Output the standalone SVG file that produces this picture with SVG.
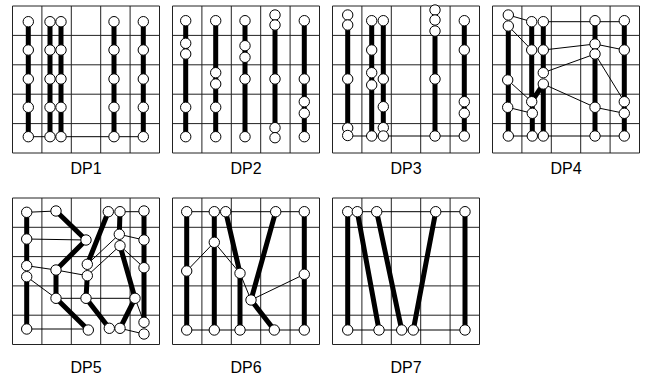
<svg xmlns="http://www.w3.org/2000/svg" width="645" height="376" viewBox="0 0 645 376">
<style>
.grid{fill:none;stroke:#222;stroke-width:1}
.thin{stroke:#000;stroke-width:1;fill:none}
.thick{stroke:#000;stroke-width:5;fill:none}
circle{fill:#fff;stroke:#000;stroke-width:1}
text{font-family:"Liberation Sans",Arial,sans-serif;font-size:16px;text-anchor:middle;fill:#000}
</style>
<g id="grids">
<path class="grid" d="M12.5,6h147v147h-147z M41.9,6v147 M71.3,6v147 M100.7,6v147 M130.1,6v147 M12.5,35.4h147 M12.5,64.8h147 M12.5,94.2h147 M12.5,123.6h147"/>
<path class="grid" d="M172.5,6h147v147h-147z M201.9,6v147 M231.3,6v147 M260.7,6v147 M290.1,6v147 M172.5,35.4h147 M172.5,64.8h147 M172.5,94.2h147 M172.5,123.6h147"/>
<path class="grid" d="M332.5,6h147v147h-147z M361.9,6v147 M391.3,6v147 M420.7,6v147 M450.1,6v147 M332.5,35.4h147 M332.5,64.8h147 M332.5,94.2h147 M332.5,123.6h147"/>
<path class="grid" d="M492.5,6h147v147h-147z M521.9,6v147 M551.3,6v147 M580.7,6v147 M610.1,6v147 M492.5,35.4h147 M492.5,64.8h147 M492.5,94.2h147 M492.5,123.6h147"/>
<path class="grid" d="M12.5,198h147v146.5h-147z M41.9,198v146.5 M71.3,198v146.5 M100.7,198v146.5 M130.1,198v146.5 M12.5,227.3h147 M12.5,256.6h147 M12.5,285.9h147 M12.5,315.2h147"/>
<path class="grid" d="M172.5,198h147v146.5h-147z M201.9,198v146.5 M231.3,198v146.5 M260.7,198v146.5 M290.1,198v146.5 M172.5,227.3h147 M172.5,256.6h147 M172.5,285.9h147 M172.5,315.2h147"/>
<path class="grid" d="M332.5,198h147v146.5h-147z M361.9,198v146.5 M391.3,198v146.5 M420.7,198v146.5 M450.1,198v146.5 M332.5,227.3h147 M332.5,256.6h147 M332.5,285.9h147 M332.5,315.2h147"/>
</g>
<g id="connectors">
<!-- DP1 -->
<path class="thin" d="M28.3,136.7H143.3"/>
<path class="thick" d="M28.3,21.7V136.7 M50,21.7V136.7 M61,21.7V136.7 M114,21.7V136.7 M143.3,21.7V136.7"/>
<!-- DP2 -->
<path class="thick" d="M185.7,20.7V136.7 M215.7,20.7V136.7 M245,20.7V136.7 M275,25V127.7 M304.3,20.7V136.7"/>
<!-- DP3 -->
<path class="thin" d="M347.7,136H464.3"/>
<path class="thick" d="M347.7,25V128 M371.7,20.7V136 M383.3,20.7V136 M435,31V136 M464.3,20.7V136"/>
<!-- DP4 -->
<path class="thin" d="M508.3,15L531.7,21.7 M543.3,21.7H624.3 M508.3,26L531.7,50 M543.3,50L595,44L624.3,50 M543.3,72.7L595,54L624.3,101.7 M543.3,84L595,107.3L624.3,113.3 M507.7,80L531.7,101.7 M507.7,107.3L532.3,113.3 M508.3,136H624.3"/>
<path class="thick" d="M508.3,26V136 M531.7,21.7V101.7 M532.3,101.7V136 M543.3,21.7V72.7 M543.3,84V136 M531.7,101.7L543.3,84 M595,20.7V136 M624.3,20.7V136"/>
<!-- DP5 -->
<path class="thin" d="M26.7,212.3L56,211 M120,211.7H144 M26.7,239L86,240 M119.3,234.3L144,240 M87.3,264.3L119.3,234.3 M87.3,275.7L120,245.7 M120,245.7L144,267.7 M26.7,265.7L56,270 M56,270L87.3,275.7 M26.7,276.7L56,298.3 M56,298.3H86 M86,298.3H135 M135,298.3L144,322.3 M26.7,329H88.3 M120,328.3L144,334"/>
<path class="thick" d="M26.7,212.3V265.7 M26.7,276.7V329 M56,211L86,240 M86,240L56,270 M108.3,211.7L87.3,264.3 M56,270V298.3 M56,298.3L88.3,330 M87.3,275.7L86,298.3 M86,298.3L109.3,328.3 M120,211.7L119.3,234.3 M120,245.7L135,298.3 M135,298.3L120,328.3 M144,211V322.3"/>
<!-- DP6 -->
<path class="thin" d="M186.7,211.7H214.3 M225.7,211.7H304.3 M186.7,271L214.3,242.3L240,273.3L251,300L304.3,274.3 M186.7,330H304.3"/>
<path class="thick" d="M186.7,211.7V330 M214.3,211.7V330 M225.7,211.7L240,273.3V330 M275.7,211.7L251,300L274.3,330 M304.3,211.7V330"/>
<!-- DP7 -->
<path class="thin" d="M347.7,211.7H465 M347.7,330H465"/>
<path class="thick" d="M347.7,211.7V330 M357.3,211.7L379,330 M376.7,211.7L401.7,330 M435.7,211.7L413.3,330 M465,211.7V330"/>
</g>
<g id="dp1">
<g id="dp1-a1"><circle cx="28.3" cy="21.7" r="5.2"/></g><g id="dp1-a2"><circle cx="28.3" cy="50" r="5.2"/></g><g id="dp1-a3"><circle cx="28.3" cy="79" r="5.2"/></g><g id="dp1-a4"><circle cx="28.3" cy="107.3" r="5.2"/></g><g id="dp1-a5"><circle cx="28.3" cy="136.7" r="5.2"/></g>
<g id="dp1-b1"><circle cx="50" cy="21.7" r="5.2"/></g><g id="dp1-b2"><circle cx="50" cy="50" r="5.2"/></g><g id="dp1-b3"><circle cx="50" cy="79" r="5.2"/></g><g id="dp1-b4"><circle cx="50" cy="107.3" r="5.2"/></g><g id="dp1-b5"><circle cx="50" cy="136.7" r="5.2"/></g>
<g id="dp1-c1"><circle cx="61" cy="21.7" r="5.2"/></g><g id="dp1-c2"><circle cx="61" cy="50" r="5.2"/></g><g id="dp1-c3"><circle cx="61" cy="79" r="5.2"/></g><g id="dp1-c4"><circle cx="61" cy="107.3" r="5.2"/></g><g id="dp1-c5"><circle cx="61" cy="136.7" r="5.2"/></g>
<g id="dp1-d1"><circle cx="114" cy="21.7" r="5.2"/></g><g id="dp1-d2"><circle cx="114" cy="50" r="5.2"/></g><g id="dp1-d3"><circle cx="114" cy="79" r="5.2"/></g><g id="dp1-d4"><circle cx="114" cy="107.3" r="5.2"/></g><g id="dp1-d5"><circle cx="114" cy="136.7" r="5.2"/></g>
<g id="dp1-e1"><circle cx="143.3" cy="21.7" r="5.2"/></g><g id="dp1-e2"><circle cx="143.3" cy="50" r="5.2"/></g><g id="dp1-e3"><circle cx="143.3" cy="79" r="5.2"/></g><g id="dp1-e4"><circle cx="143.3" cy="107.3" r="5.2"/></g><g id="dp1-e5"><circle cx="143.3" cy="136.7" r="5.2"/></g>
<text x="86" y="173.5">DP1</text>
</g>
<g id="dp2">
<g id="dp2-a1"><circle cx="185.7" cy="20.7" r="5.2"/></g><g id="dp2-a2"><circle cx="185.7" cy="43.3" r="5.2"/></g><g id="dp2-a3"><circle cx="185.7" cy="54" r="5.2"/></g><g id="dp2-a4"><circle cx="185.7" cy="107.3" r="5.2"/></g><g id="dp2-a5"><circle cx="185.7" cy="136.7" r="5.2"/></g>
<g id="dp2-b1"><circle cx="215.7" cy="20.7" r="5.2"/></g><g id="dp2-b2"><circle cx="215.7" cy="72.7" r="5.2"/></g><g id="dp2-b3"><circle cx="215.7" cy="84" r="5.2"/></g><g id="dp2-b4"><circle cx="215.7" cy="107.3" r="5.2"/></g><g id="dp2-b5"><circle cx="215.7" cy="136.7" r="5.2"/></g>
<g id="dp2-c1"><circle cx="245" cy="20.7" r="5.2"/></g><g id="dp2-c2"><circle cx="245" cy="45.7" r="5.2"/></g><g id="dp2-c3"><circle cx="245" cy="57.3" r="5.2"/></g><g id="dp2-c4"><circle cx="245" cy="79" r="5.2"/></g><g id="dp2-c5"><circle cx="245" cy="136.7" r="5.2"/></g>
<g id="dp2-d1"><circle cx="275" cy="15" r="5.2"/></g><g id="dp2-d2"><circle cx="275" cy="25" r="5.2"/></g><g id="dp2-d3"><circle cx="275" cy="79" r="5.2"/></g><g id="dp2-d4"><circle cx="275" cy="127.7" r="5.2"/></g><g id="dp2-d5"><circle cx="275" cy="137.7" r="5.2"/></g>
<g id="dp2-e1"><circle cx="304.3" cy="20.7" r="5.2"/></g><g id="dp2-e2"><circle cx="304.3" cy="79" r="5.2"/></g><g id="dp2-e3"><circle cx="304.3" cy="101.7" r="5.2"/></g><g id="dp2-e4"><circle cx="304.3" cy="113.3" r="5.2"/></g><g id="dp2-e5"><circle cx="304.3" cy="136.7" r="5.2"/></g>
<text x="246" y="173.5">DP2</text>
</g>
<g id="dp3">
<g id="dp3-a1"><circle cx="347.7" cy="15" r="5.2"/></g><g id="dp3-a2"><circle cx="347.7" cy="25" r="5.2"/></g><g id="dp3-a3"><circle cx="347.7" cy="79" r="5.2"/></g><g id="dp3-a4"><circle cx="347.7" cy="128" r="5.2"/></g><g id="dp3-a5"><circle cx="347.7" cy="135.5" r="5.2"/></g>
<g id="dp3-b1"><circle cx="371.7" cy="20.7" r="5.2"/></g><g id="dp3-b2"><circle cx="371.7" cy="50" r="5.2"/></g><g id="dp3-b3"><circle cx="371.7" cy="72.7" r="5.2"/></g><g id="dp3-b4"><circle cx="371.7" cy="85" r="5.2"/></g><g id="dp3-b5"><circle cx="371.7" cy="136" r="5.2"/></g>
<g id="dp3-c1"><circle cx="383.3" cy="20.7" r="5.2"/></g><g id="dp3-c2"><circle cx="383.3" cy="79" r="5.2"/></g><g id="dp3-c3"><circle cx="383.3" cy="106.7" r="5.2"/></g><g id="dp3-c4"><circle cx="383.3" cy="127.7" r="5.2"/></g><g id="dp3-c5"><circle cx="383.3" cy="136" r="5.2"/></g>
<g id="dp3-d1"><circle cx="435" cy="10" r="5.2"/></g><g id="dp3-d2"><circle cx="435" cy="20" r="5.2"/></g><g id="dp3-d3"><circle cx="435" cy="31" r="5.2"/></g><g id="dp3-d4"><circle cx="435" cy="79" r="5.2"/></g><g id="dp3-d5"><circle cx="435" cy="136" r="5.2"/></g>
<g id="dp3-e1"><circle cx="464.3" cy="20.7" r="5.2"/></g><g id="dp3-e2"><circle cx="464.3" cy="50" r="5.2"/></g><g id="dp3-e3"><circle cx="464.3" cy="101.7" r="5.2"/></g><g id="dp3-e4"><circle cx="464.3" cy="113.3" r="5.2"/></g><g id="dp3-e5"><circle cx="464.3" cy="136" r="5.2"/></g>
<text x="406" y="173.5">DP3</text>
</g>
<g id="dp4">
<g id="dp4-a1"><circle cx="508.3" cy="15" r="5.2"/></g><g id="dp4-a2"><circle cx="508.3" cy="26" r="5.2"/></g><g id="dp4-a3"><circle cx="507.7" cy="80" r="5.2"/></g><g id="dp4-a4"><circle cx="507.7" cy="107.3" r="5.2"/></g><g id="dp4-a5"><circle cx="508.3" cy="136" r="5.2"/></g>
<g id="dp4-b1"><circle cx="531.7" cy="21.7" r="5.2"/></g><g id="dp4-b2"><circle cx="531.7" cy="50" r="5.2"/></g><g id="dp4-b3"><circle cx="531.7" cy="101.7" r="5.2"/></g><g id="dp4-b4"><circle cx="532.3" cy="113.3" r="5.2"/></g><g id="dp4-b5"><circle cx="532.3" cy="136" r="5.2"/></g>
<g id="dp4-c1"><circle cx="543.3" cy="21.7" r="5.2"/></g><g id="dp4-c2"><circle cx="543.3" cy="50" r="5.2"/></g><g id="dp4-c3"><circle cx="543.3" cy="72.7" r="5.2"/></g><g id="dp4-c4"><circle cx="543.3" cy="84" r="5.2"/></g><g id="dp4-c5"><circle cx="543.3" cy="136" r="5.2"/></g>
<g id="dp4-d1"><circle cx="595" cy="20.7" r="5.2"/></g><g id="dp4-d2"><circle cx="595" cy="44" r="5.2"/></g><g id="dp4-d3"><circle cx="595" cy="54" r="5.2"/></g><g id="dp4-d4"><circle cx="595" cy="107.3" r="5.2"/></g><g id="dp4-d5"><circle cx="595" cy="136" r="5.2"/></g>
<g id="dp4-e1"><circle cx="624.3" cy="20.7" r="5.2"/></g><g id="dp4-e2"><circle cx="624.3" cy="50" r="5.2"/></g><g id="dp4-e3"><circle cx="624.3" cy="101.7" r="5.2"/></g><g id="dp4-e4"><circle cx="624.3" cy="113.3" r="5.2"/></g><g id="dp4-e5"><circle cx="624.3" cy="136" r="5.2"/></g>
<text x="566" y="173.5">DP4</text>
</g>
<g id="dp5">
<g id="dp5-a"><circle cx="26.7" cy="212.3" r="5.2"/></g><g id="dp5-b"><circle cx="56" cy="211" r="5.2"/></g><g id="dp5-c"><circle cx="108.3" cy="211.7" r="5.2"/></g><g id="dp5-d"><circle cx="120" cy="211.7" r="5.2"/></g><g id="dp5-e"><circle cx="144" cy="211" r="5.2"/></g>
<g id="dp5-f"><circle cx="26.7" cy="239" r="5.2"/></g><g id="dp5-g"><circle cx="86" cy="240" r="5.2"/></g><g id="dp5-h"><circle cx="119.3" cy="234.3" r="5.2"/></g><g id="dp5-i"><circle cx="144" cy="240" r="5.2"/></g><g id="dp5-j"><circle cx="120" cy="245.7" r="5.2"/></g>
<g id="dp5-k"><circle cx="26.7" cy="265.7" r="5.2"/></g><g id="dp5-l"><circle cx="26.7" cy="276.7" r="5.2"/></g><g id="dp5-m"><circle cx="56" cy="270" r="5.2"/></g><g id="dp5-n"><circle cx="87.3" cy="264.3" r="5.2"/></g><g id="dp5-o"><circle cx="87.3" cy="275.7" r="5.2"/></g><g id="dp5-p"><circle cx="144" cy="267.7" r="5.2"/></g>
<g id="dp5-q"><circle cx="56" cy="298.3" r="5.2"/></g><g id="dp5-r"><circle cx="86" cy="298.3" r="5.2"/></g><g id="dp5-s"><circle cx="135" cy="298.3" r="5.2"/></g>
<g id="dp5-t"><circle cx="26.7" cy="329" r="5.2"/></g><g id="dp5-u"><circle cx="88.3" cy="330" r="5.2"/></g><g id="dp5-v"><circle cx="109.3" cy="328.3" r="5.2"/></g><g id="dp5-w"><circle cx="120" cy="328.3" r="5.2"/></g><g id="dp5-x"><circle cx="144" cy="322.3" r="5.2"/></g><g id="dp5-y"><circle cx="144" cy="334" r="5.2"/></g>
<text x="86" y="373">DP5</text>
</g>
<g id="dp6">
<g id="dp6-a1"><circle cx="186.7" cy="211.7" r="5.2"/></g><g id="dp6-b1"><circle cx="214.3" cy="211.7" r="5.2"/></g><g id="dp6-c1"><circle cx="225.7" cy="211.7" r="5.2"/></g><g id="dp6-d1"><circle cx="275.7" cy="211.7" r="5.2"/></g><g id="dp6-e1"><circle cx="304.3" cy="211.7" r="5.2"/></g>
<g id="dp6-b2"><circle cx="214.3" cy="242.3" r="5.2"/></g><g id="dp6-a3"><circle cx="186.7" cy="271" r="5.2"/></g><g id="dp6-c3"><circle cx="240" cy="273.3" r="5.2"/></g><g id="dp6-e3"><circle cx="304.3" cy="274.3" r="5.2"/></g><g id="dp6-x"><circle cx="251" cy="300" r="5.2"/></g>
<g id="dp6-a5"><circle cx="186.7" cy="330" r="5.2"/></g><g id="dp6-b5"><circle cx="214.3" cy="330" r="5.2"/></g><g id="dp6-c5"><circle cx="240" cy="330" r="5.2"/></g><g id="dp6-d5"><circle cx="274.3" cy="330" r="5.2"/></g><g id="dp6-e5"><circle cx="304.3" cy="330" r="5.2"/></g>
<text x="246" y="373">DP6</text>
</g>
<g id="dp7">
<g id="dp7-a1"><circle cx="347.7" cy="211.7" r="5.2"/></g><g id="dp7-b1"><circle cx="357.3" cy="211.7" r="5.2"/></g><g id="dp7-c1"><circle cx="376.7" cy="211.7" r="5.2"/></g><g id="dp7-d1"><circle cx="435.7" cy="211.7" r="5.2"/></g><g id="dp7-e1"><circle cx="465" cy="211.7" r="5.2"/></g>
<g id="dp7-a5"><circle cx="347.7" cy="330" r="5.2"/></g><g id="dp7-b5"><circle cx="379" cy="330" r="5.2"/></g><g id="dp7-c5"><circle cx="401.7" cy="330" r="5.2"/></g><g id="dp7-d5"><circle cx="413.3" cy="330" r="5.2"/></g><g id="dp7-e5"><circle cx="465" cy="330" r="5.2"/></g>
<text x="406" y="373">DP7</text>
</g>
</svg>
